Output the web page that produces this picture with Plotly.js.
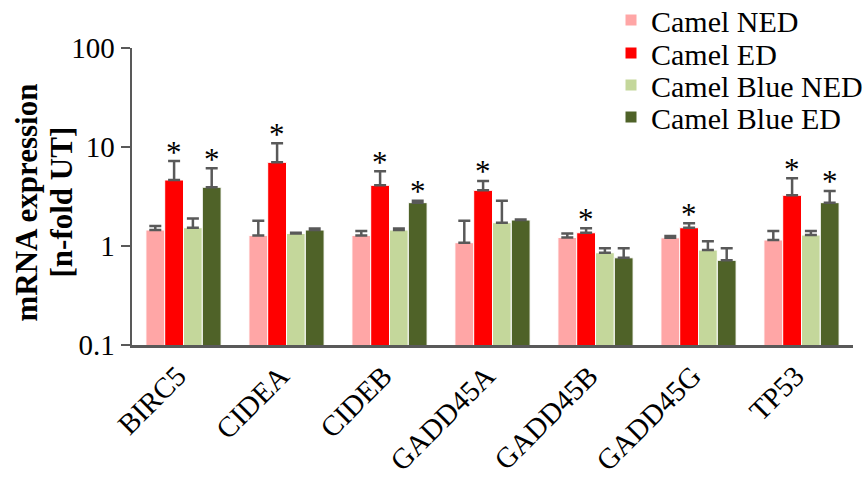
<!DOCTYPE html>
<html>
<head>
<meta charset="utf-8">
<script src="https://cdn.plot.ly/plotly-3.0.1.min.js"></script>
<style>html,body{margin:0;padding:0;background:#fff;}#chart{width:866px;height:481px;}</style>
</head>
<body>
<div id="chart"></div>
<script>
// ---- data ----
const genes = ["BIRC5", "CIDEA", "CIDEB", "GADD45A", "GADD45B", "GADD45G", "TP53"];
const seriesNames = ["Camel NED", "Camel ED", "Camel Blue NED", "Camel Blue ED"];
const camelNED      = [1.45, 1.28, 1.28, 1.08, 1.22, 1.21, 1.15];
const camelED       = [4.64, 7.0, 4.1, 3.65, 1.36, 1.53, 3.25];
const camelBlueNED  = [1.53, 1.34, 1.45, 1.72, 0.855, 0.91, 1.29];
const camelBlueED   = [3.92, 1.45, 2.74, 1.83, 0.76, 0.717, 2.74];
const errNED        = [0.14, 0.52, 0.14, 0.72, 0.12, 0.05, 0.27];
const errED         = [2.56, 3.9, 1.6, 0.89, 0.15, 0.17, 1.58];
const errBlueNED    = [0.37, 0.02, 0.05, 1.15, 0.095, 0.21, 0.13];
const errBlueED     = [2.18, 0.05, 0.13, 0.02, 0.19, 0.23, 0.86];
const sigNED        = [0, 0, 0, 0, 0, 0, 0];
const sigED         = [1, 1, 1, 1, 1, 1, 1];
const sigBlueNED    = [0, 0, 0, 0, 0, 0, 0];
const sigBlueED     = [1, 0, 1, 0, 0, 0, 1];
const yTickVals = [0.1, 1, 10, 100];
const yTickText = ["0.1", "1", "10", "100"];
const yTitleLines = ["mRNA expression", "[n-fold UT]"];

const values = [camelNED, camelED, camelBlueNED, camelBlueED];
const errors = [errNED, errED, errBlueNED, errBlueED];
const sigs = [sigNED, sigED, sigBlueNED, sigBlueED];
const colors = ["#FFA6A6", "#FF0000", "#C4D79B", "#4F6228"];

const FONT = "Liberation Serif, Times New Roman, serif";
const bargap = 0.27;
const nS = values.length;
const bw = (1 - bargap) / nS;
const legendNames = ["legend", "legend2", "legend3", "legend4"];
const legendY = [20, 53, 85, 117]; // px from top

const traces = values.map((v, s) => ({
  type: "bar",
  name: seriesNames[s],
  legend: legendNames[s],
  x: genes,
  y: v,
  marker: {color: colors[s], line: {color: "#ffffff", width: 1}},
  error_y: {
    type: "data", symmetric: false,
    array: errors[s], arrayminus: v.map(() => 0),
    color: "#595959", thickness: 2.5, width: 6
  },
  hoverinfo: "x+y+name"
}));

const annotations = [];
sigs.forEach((sg, s) => {
  sg.forEach((flag, i) => {
    if (!flag) return;
    const top = values[s][i] + errors[s][i];
    annotations.push({
      xref: "x", yref: "y",
      x: i + (s - (nS - 1) / 2) * bw,
      y: Math.log10(top),
      text: "*", showarrow: false,
      yanchor: "middle", yshift: 9,
      font: {family: FONT, size: 31, color: "#000"}
    });
  });
});
const titleShift = [-106, -71];
yTitleLines.forEach((t, k) => {
  annotations.push({
    xref: "paper", yref: "paper", x: 0, y: 0.5,
    xanchor: "center", yanchor: "middle",
    xshift: titleShift[k], yshift: -6,
    textangle: -90, showarrow: false,
    text: "<b>" + t + "</b>",
    font: {family: FONT, size: 31, color: "#000"}
  });
});

const layout = {
  width: 866, height: 481,
  margin: {l: 132, r: 13, t: 48, b: 136, autoexpand: false},
  paper_bgcolor: "#fff", plot_bgcolor: "#fff",
  barmode: "group", bargap: bargap, bargroupgap: 0,
  font: {family: FONT, color: "#000"},
  showlegend: true,
  xaxis: {
    type: "category", automargin: false,
    showline: true, linecolor: "#595959", linewidth: 2.5,
    ticks: "", showgrid: false, zeroline: false,
    tickangle: -45, tickfont: {family: FONT, size: 29, color: "#000"},
    ticklabelstandoff: 0, ticklabelshift: -6
  },
  yaxis: {
    type: "log", range: [-1, 2], automargin: false,
    tickvals: yTickVals, ticktext: yTickText,
    showline: true, linecolor: "#595959", linewidth: 2.5,
    ticks: "outside", ticklen: 9, tickwidth: 2.5, tickcolor: "#595959",
    showgrid: false, zeroline: false,
    tickfont: {family: FONT, size: 29, color: "#000"}
  },
  annotations: annotations
};
legendNames.forEach((ln, s) => {
  layout[ln] = {
    xref: "container", yref: "container",
    x: 611 / 866, y: 1 - legendY[s] / 481,
    xanchor: "left", yanchor: "middle",
    font: {family: FONT, size: 30, color: "#000"},
    bgcolor: "rgba(0,0,0,0)", itemwidth: 30
  };
});

Plotly.newPlot("chart", traces, layout, {displayModeBar: false, staticPlot: true});
</script>
</body>
</html>
